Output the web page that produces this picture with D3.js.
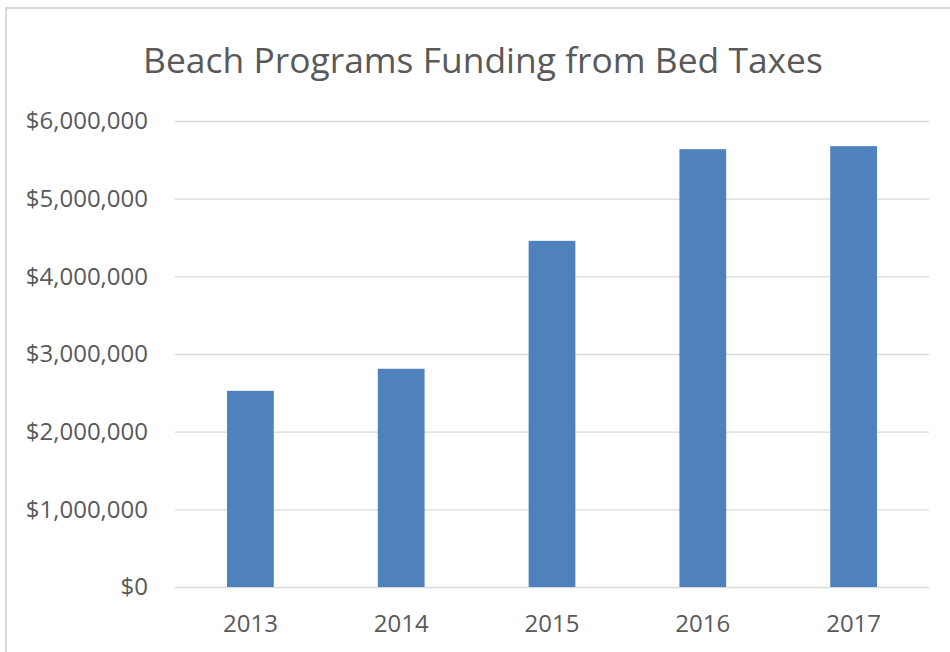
<!DOCTYPE html>
<html lang="en">
<head>
  <meta charset="utf-8" />
  <title>Beach Programs Funding from Bed Taxes</title>
  <style>
    body { margin: 0; background: #ffffff; }
    svg { display: block; font-family: "Open Sans", sans-serif; }
    .tick text { fill: #595959; }
  </style>
</head>
<body>
  <svg width="950" height="652"></svg>

  <script src="https://d3js.org/d3.v7.min.js"></script>
  <script>
    const years = ["2013", "2014", "2015", "2016", "2017"];
    const funding = [2526000, 2810000, 4457000, 5637000, 5676000];
    const yTicks = [0, 1000000, 2000000, 3000000, 4000000, 5000000, 6000000];
    const title = "Beach Programs Funding from Bed Taxes";

    const svg = d3.select("svg");
    const margin = {top: 121, right: 21, bottom: 65, left: 175};
    const W = 950, H = 652;

    // outer chart frame (runs off the right and bottom edges)
    svg.append("rect")
      .attr("x", 6).attr("y", 8)
      .attr("width", 980).attr("height", 700)
      .attr("fill", "#fff")
      .attr("stroke", "#d9d9d9")
      .attr("stroke-width", 2);

    const x = d3.scaleBand()
      .domain(years)
      .range([margin.left, W - margin.right])
      .paddingInner(0.69)
      .paddingOuter(0.345);

    const y = d3.scaleLinear()
      .domain([0, 6000000])
      .range([H - margin.bottom, margin.top]);

    const fmt = d => "$" + d3.format(",")(d);

    // y axis with gridlines
    const yAxis = svg.append("g")
      .attr("transform", `translate(${margin.left},0)`)
      .call(d3.axisLeft(y)
        .tickValues(yTicks)
        .tickFormat(fmt)
        .tickSize(-(W - margin.left - margin.right))
        .tickPadding(27));
    yAxis.select(".domain").remove();
    yAxis.selectAll("line").attr("stroke", "#d9d9d9").attr("stroke-width", 1.3);
    yAxis.selectAll("text").attr("font-size", 24).attr("font-family", "Open Sans");

    // bars
    svg.append("g")
      .selectAll("rect")
      .data(years)
      .join("rect")
      .attr("x", d => x(d))
      .attr("width", x.bandwidth())
      .attr("y", (d, i) => y(funding[i]))
      .attr("height", (d, i) => y(0) - y(funding[i]))
      .attr("fill", "#4f81bd");

    // x axis
    const xAxis = svg.append("g")
      .attr("transform", `translate(0,${y(0)})`)
      .call(d3.axisBottom(x).tickSize(0).tickPadding(28));
    xAxis.select(".domain").remove();
    xAxis.selectAll("text").attr("font-size", 24).attr("font-family", "Open Sans");

    // title, sized to span the same width as the reference
    const t = svg.append("text")
      .attr("x", 483)
      .attr("y", 73)
      .attr("text-anchor", "middle")
      .attr("fill", "#595959")
      .attr("font-size", 36)
      .text(title);
    const w = t.node().getComputedTextLength();
    t.attr("font-size", 36 * 680 / w);
  </script>
</body>
</html>
